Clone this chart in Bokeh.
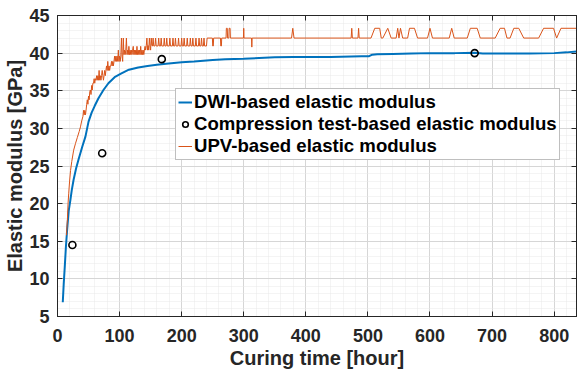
from bokeh.plotting import figure
from bokeh.models import FixedTicker, LinearAxis, Range1d, ColumnDataSource
from bokeh.embed import file_html
from bokeh.resources import INLINE

# ---- DWI-based elastic modulus (continuous curve) ----
dwi_hours = [8.5, 10, 11.7, 13.5, 15.5, 18, 20.8, 23, 26, 30, 34, 40, 45, 50, 55, 60, 66, 74, 82, 92,
             103, 115, 130, 145, 160, 175, 200, 220, 250, 270, 300, 325, 350, 380, 440, 490, 502, 507, 515, 540,
             570, 600, 640, 672, 685, 700, 760, 800, 820, 836]
dwi_gpa = [6.9, 9.3, 11.6, 14.2, 16.5, 19.0, 20.5, 21.8, 23.2, 24.7, 25.9, 27.6, 28.9, 30.9, 32.1, 33.0, 34.0, 35.1, 36.0, 36.8,
           37.3, 37.8, 38.1, 38.3, 38.45, 38.6, 38.8, 38.9, 39.1, 39.2, 39.25, 39.35, 39.45, 39.5, 39.5, 39.6, 39.6, 39.8, 39.85, 39.9,
           39.95, 40.0, 40.0, 40.05, 39.95, 39.95, 39.95, 40.0, 40.1, 40.2]

# ---- Compression test-based elastic modulus (1, 3, 7, 28 days) ----
comp_hours = [24, 72, 168, 672]
comp_gpa = [14.5, 26.7, 39.2, 40.0]

# ---- UPV-based elastic modulus (quantised readings) ----
upv_hours_a = [14.5, 16, 17, 18, 19.5, 21, 23, 26, 29, 32,
               35, 37, 39, 41, 42, 43, 44, 45, 46, 47,
               48, 49, 50, 51, 52, 53, 54, 55, 56, 57]
upv_gpa_a = [15.8, 18.0, 20.0, 21.3, 23.0, 24.4, 25.6, 27.1, 28.0, 28.8,
             29.6, 30.2, 31.0, 31.6, 32.4, 31.8, 32.4, 31.8, 32.4, 33.2,
             33.8, 33.2, 34.3, 33.8, 34.9, 35.1, 34.5, 35.7, 35.1, 36.0]

upv_hours_b = [58, 59, 60, 61, 62, 63, 64, 65, 66, 67, 68, 69, 70, 71, 72, 73, 74, 75, 76, 77]
upv_gpa_b = [36.0, 36.6, 36.0, 36.6, 36.4, 37.0, 36.4, 37.0, 36.4, 37.7,
             36.4, 37.0, 36.4, 37.0, 37.7, 37.0, 36.4, 37.0, 37.7, 37.0]

upv_hours_c = [78, 79, 80, 81, 82, 83, 84, 85, 86, 87, 88, 89, 90]
upv_gpa_c = [37.7, 38.3, 37.7, 38.9, 37.7, 38.3, 37.7, 38.3, 38.3, 38.9, 38.3, 38.9, 38.3]

upv_hours_d = [91, 92, 93, 94, 95, 96, 97, 98, 99, 100, 101, 102, 103, 104, 105]
upv_gpa_d = [38.9, 39.6, 38.9, 39.6, 38.9, 39.6, 38.9, 40.4, 38.9, 39.6, 38.9, 39.6, 42.0, 39.6, 38.9]

upv_hours_e = [106, 107, 108, 109, 110, 111, 112, 113, 114, 115, 116, 117, 118, 119, 120, 121, 122, 123,
               124, 125, 126, 127, 128, 129, 130, 131, 132, 133, 134, 135, 136, 137, 138, 139, 140, 141]
upv_gpa_e = [42.0, 39.8, 40.4, 39.8, 40.4, 42.0, 39.8, 40.4, 39.8, 40.9, 39.8, 40.4, 39.8, 40.4, 39.8, 40.4, 40.9, 39.8,
             40.4, 39.8, 40.4, 39.8, 40.9, 39.8, 40.4, 39.8, 40.4, 39.8, 40.9, 39.8, 40.4, 39.8, 40.4, 39.8, 40.4, 40.9]

upv_hours_f = [142, 143, 144, 145, 146, 147, 148, 149, 150, 151, 152]
upv_gpa_f = [40.4, 41.0, 42.0, 40.4, 41.0, 40.4, 42.0, 41.0, 40.4, 42.0, 41.0]

upv_hours_g = [153, 154, 155, 157, 158, 159, 162, 163, 164, 166, 167, 168,
               171, 172, 173, 175, 176, 177, 180, 181, 182, 185, 186, 187,
               189, 190, 191, 194, 195, 196, 199, 200, 201, 203, 204, 205,
               208, 209, 210, 213, 214, 215, 217, 218, 219, 222, 223, 224,
               227, 228, 229, 231, 232, 233, 235, 236, 237, 240]
upv_gpa_g = [40.95, 42.0, 40.95, 40.95, 42.0, 40.95, 40.95, 42.0, 40.95, 40.95, 42.0, 40.95,
             40.95, 42.0, 40.95, 40.95, 42.0, 40.95, 40.95, 42.0, 40.95, 40.95, 42.0, 40.95,
             40.95, 42.0, 40.95, 40.95, 42.0, 40.95, 40.95, 42.0, 40.95, 40.95, 42.0, 40.95,
             40.95, 42.0, 40.95, 40.95, 42.0, 40.95, 40.95, 42.0, 40.95, 40.95, 42.0, 40.95,
             40.95, 42.0, 40.95, 40.95, 42.0, 40.95, 40.95, 42.0, 40.95, 40.95]

upv_hours_h = [241,
               249.5, 250, 251, 251.5,
               262.5, 263, 264, 264.5,
               271.5, 272, 273.5, 274, 276, 276.5, 278, 278.5,
               299.5, 300, 300.5,
               312.5, 313, 313.5,
               377, 379, 381,
               473, 474, 475,
               484, 485, 486,
               505, 511, 519, 521.5,
               524, 532, 537.5,
               545.5, 548, 550, 552.5, 556,
               564, 567, 575, 580,
               596, 600, 604,
               631, 635, 639,
               660, 665, 676, 681,
               705, 713, 720, 724,
               729, 735, 743, 751,
               775, 783, 799, 804, 811, 840]
upv_gpa_h = [42.0,
             42.0, 40.95, 40.95, 42.0,
             42.0, 40.95, 40.95, 42.0,
             42.0, 43.3, 43.3, 42.0, 42.0, 43.3, 43.3, 42.0,
             42.0, 43.3, 42.0,
             42.0, 40.8, 42.0,
             42.0, 43.3, 42.0,
             42.0, 43.3, 42.0,
             42.0, 43.3, 42.0,
             42.0, 43.3, 43.3, 42.0,
             42.0, 43.3, 42.0,
             42.0, 43.3, 42.0, 43.3, 42.0,
             42.0, 43.3, 43.3, 42.0,
             42.0, 43.3, 42.0,
             42.0, 43.3, 42.0,
             42.0, 43.3, 43.3, 42.0,
             42.0, 43.3, 43.3, 42.0,
             42.0, 43.3, 43.3, 42.0,
             42.0, 43.3, 43.3, 42.0, 43.3, 43.3]

upv_hours = (upv_hours_a + upv_hours_b + upv_hours_c + upv_hours_d +
             upv_hours_e + upv_hours_f + upv_hours_g + upv_hours_h)
upv_gpa = (upv_gpa_a + upv_gpa_b + upv_gpa_c + upv_gpa_d +
           upv_gpa_e + upv_gpa_f + upv_gpa_g + upv_gpa_h)

x_ticks = [0, 100, 200, 300, 400, 500, 600, 700, 800]
y_ticks = [5, 10, 15, 20, 25, 30, 35, 40, 45]

FONT = "Liberation Sans"
TEXT = "#262626"
BLUE = "#0072BD"
ORANGE = "#D95319"

p = figure(width=580, height=371, output_backend="svg", toolbar_location=None,
           x_range=Range1d(0, 836), y_range=Range1d(5, 45),
           min_border_left=57, min_border_right=0, min_border_top=15, min_border_bottom=55,
           x_axis_label="Curing time [hour]", y_axis_label="Elastic modulus [GPa]")
p.outline_line_color = TEXT
p.background_fill_color = "white"

xt = FixedTicker(ticks=x_ticks, minor_ticks=[20 * i for i in range(43)])
yt = FixedTicker(ticks=y_ticks, minor_ticks=list(range(5, 46)))

for ax, tk in ((p.xaxis[0], xt), (p.yaxis[0], yt)):
    ax.ticker = tk
    ax.major_label_text_font = FONT
    ax.major_label_text_font_style = "bold"
    ax.major_label_text_font_size = "18px"
    ax.major_label_text_color = TEXT
    ax.axis_label_text_font = FONT
    ax.axis_label_text_font_style = "bold"
    ax.axis_label_text_font_size = "20px"
    ax.axis_label_text_color = TEXT
    ax.axis_line_color = TEXT
    ax.major_tick_line_color = TEXT
    ax.major_tick_in = 5
    ax.major_tick_out = 0
    ax.minor_tick_line_color = None

p.xaxis[0].major_label_standoff = 8
p.xaxis[0].axis_label_standoff = 2
p.yaxis[0].major_label_standoff = 4
p.yaxis[0].axis_label_standoff = 0

# box ticks on the top and right edges (no labels)
blank_x = {t: "" for t in x_ticks}
blank_y = {t: "" for t in y_ticks}
top = LinearAxis(ticker=xt, major_label_overrides=blank_x, major_label_standoff=0,
                 major_tick_in=5, major_tick_out=0, minor_tick_line_color=None,
                 axis_line_color=TEXT, major_tick_line_color=TEXT)
right = LinearAxis(ticker=yt, major_label_overrides=blank_y, major_label_standoff=0,
                   major_tick_in=5, major_tick_out=0, minor_tick_line_color=None,
                   axis_line_color=TEXT, major_tick_line_color=TEXT)
p.add_layout(top, "above")
p.add_layout(right, "right")

for g in (p.xgrid[0], p.ygrid[0]):
    g.grid_line_color = "#d6d6d6"
    g.minor_grid_line_color = "#e9e9e9"
    g.minor_grid_line_dash = "1 1"

dwi_src = ColumnDataSource(dict(h=dwi_hours, v=dwi_gpa))
comp_src = ColumnDataSource(dict(h=comp_hours, v=comp_gpa))
upv_src = ColumnDataSource(dict(h=upv_hours, v=upv_gpa))

p.line("h", "v", source=dwi_src, line_color=BLUE, line_width=2,
       legend_label="DWI-based elastic modulus")
p.scatter("h", "v", source=comp_src, marker="circle", size=7, fill_color=None,
          line_color="black", line_width=1.6,
          legend_label="Compression test-based elastic modulus")
p.line("h", "v", source=upv_src, line_color=ORANGE, line_width=1,
       legend_label="UPV-based elastic modulus")

lg = p.legend[0]
lg.location = (118, 156)
lg.label_text_font = FONT
lg.label_text_font_style = "bold"
lg.label_text_font_size = "18.6px"
lg.label_text_color = "black"
lg.border_line_color = "#7f7f7f"
lg.border_line_width = 1
lg.background_fill_color = "white"
lg.background_fill_alpha = 1
lg.glyph_width = 14
lg.glyph_height = 20
lg.label_height = 22
lg.label_standoff = 2
lg.padding = 2
lg.spacing = 0
lg.margin = 0

open("out.html", "w").write(file_html(p, INLINE))
